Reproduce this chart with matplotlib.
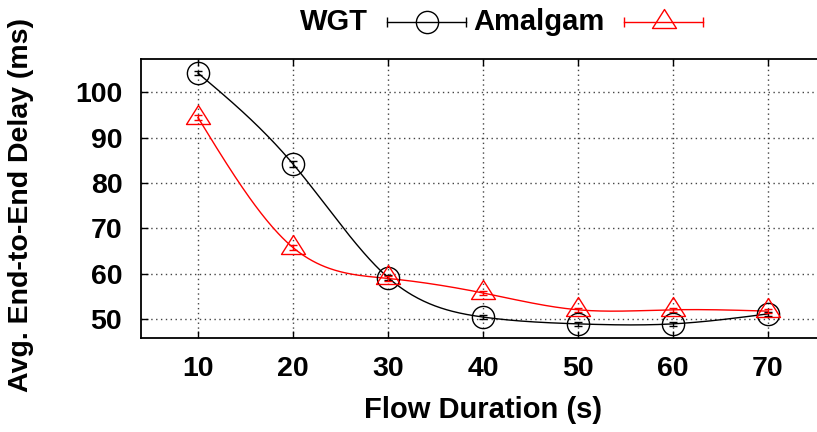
import numpy as np
import matplotlib
matplotlib.use("Agg")
import matplotlib.pyplot as plt
from matplotlib.lines import Line2D
from matplotlib.path import Path

plt.rcParams['font.family'] = ['Liberation Sans', 'DejaVu Sans']
plt.rcParams['font.weight'] = 'bold'

# ---- data ----
flow_duration = [10, 20, 30, 40, 50, 60, 70]
wgt_delay = [104.2, 84.2, 59.2, 50.5, 49.0, 49.0, 51.2]
wgt_err = [0.5, 0.6, 0.5, 0.5, 0.4, 0.4, 0.5]
amalgam_delay = [94.4, 65.8, 59.0, 55.8, 52.1, 52.1, 51.8]
amalgam_err = [0.5, 0.6, 0.5, 0.5, 0.4, 0.4, 0.5]
x_ticks = [10, 20, 30, 40, 50, 60, 70]
y_ticks = [50, 60, 70, 80, 90, 100]
series_names = ["WGT", "Amalgam"]


def natural_spline(x, y, n=400):
    x = np.asarray(x, float)
    y = np.asarray(y, float)
    k = len(x)
    h = np.diff(x)
    A = np.zeros((k, k))
    b = np.zeros(k)
    A[0, 0] = 1
    A[-1, -1] = 1
    for i in range(1, k - 1):
        A[i, i - 1] = h[i - 1]
        A[i, i] = 2 * (h[i - 1] + h[i])
        A[i, i + 1] = h[i]
        b[i] = 6 * ((y[i + 1] - y[i]) / h[i] - (y[i] - y[i - 1]) / h[i - 1])
    M = np.linalg.solve(A, b)
    xs = np.linspace(x[0], x[-1], n)
    idx = np.clip(np.searchsorted(x, xs) - 1, 0, k - 2)
    x0, x1 = x[idx], x[idx + 1]
    hh = x1 - x0
    t0 = x1 - xs
    t1 = xs - x0
    ys = (M[idx] * t0 ** 3 / (6 * hh) + M[idx + 1] * t1 ** 3 / (6 * hh)
          + (y[idx] / hh - M[idx] * hh / 6) * t0
          + (y[idx + 1] / hh - M[idx + 1] * hh / 6) * t1)
    return xs, ys


fig = plt.figure(figsize=(8.17, 4.32), dpi=100)
ax = fig.add_axes([141 / 817, 94.5 / 432, 684 / 817, 278.5 / 432])

tri = Path([(0, 13), (-12, -6), (12, -6), (0, 13)],
           [Path.MOVETO, Path.LINETO, Path.LINETO, Path.CLOSEPOLY])

colors = ['black', '#ff0000']
markers = ['o', tri]
msizes = [16, 18.7]
datasets = [(wgt_delay, wgt_err), (amalgam_delay, amalgam_err)]

for (vals, errs), c, m, ms in zip(datasets, colors, markers, msizes):
    xs, ys = natural_spline(flow_duration, vals)
    ax.plot(xs, ys, color=c, lw=1.0, zorder=3)
    ax.errorbar(flow_duration, vals, yerr=errs, fmt='none', ecolor=c,
                elinewidth=1.0, capsize=3, capthick=1.0, zorder=4)
    ax.plot(flow_duration, vals, linestyle='none', marker=m, markersize=ms,
            markerfacecolor='none', markeredgecolor=c, markeredgewidth=1.0,
            zorder=5)

ax.set_xlim(4, 76)
ax.set_ylim(46, 107.3)
ax.set_xticks(x_ticks)
ax.set_yticks(y_ticks)
ax.tick_params(axis='both', direction='in', length=5, width=1.0,
               labelsize=20.5, top=True, right=True)
ax.tick_params(axis='y', pad=13.5)
ax.tick_params(axis='x', pad=13)
for lab in ax.get_xticklabels() + ax.get_yticklabels():
    lab.set_fontweight('bold')
ax.grid(True, color='#444444', linestyle=(0, (1, 2.5)), linewidth=1.0)
for s in ax.spines.values():
    s.set_linewidth(1.3)

fig.text(483 / 817, 1 - 410 / 432, "Flow Duration (s)", ha='center',
         va='center', fontsize=21, fontweight='bold')
fig.text(21 / 817, 1 - 205 / 432, "Avg. End-to-End Delay (ms)", ha='center',
         va='center', rotation=90, fontsize=20.5, fontweight='bold')

# ---- legend (gnuplot style: text left of sample) ----
ly = 1 - 22 / 432
legend_specs = [
    (368, 387, 466),
    (605, 624, 703),
]
for name, (tx, x0, x1), c, m, ms in zip(series_names, legend_specs, colors,
                                         markers, msizes):
    fig.text(tx / 817, ly, name, ha='right', va='center', fontsize=21,
             fontweight='bold')
    fig.add_artist(Line2D([x0 / 817, x1 / 817], [ly, ly], color=c, lw=1.0,
                          marker='|', markersize=7, markeredgewidth=1.0))
    fig.add_artist(Line2D([(x0 + x1) / 2 / 817], [ly], color=c,
                          marker=m, markersize=ms, markerfacecolor='none',
                          markeredgecolor=c, markeredgewidth=1.0,
                          linestyle='none'))

fig.savefig("out.png", dpi=100)
